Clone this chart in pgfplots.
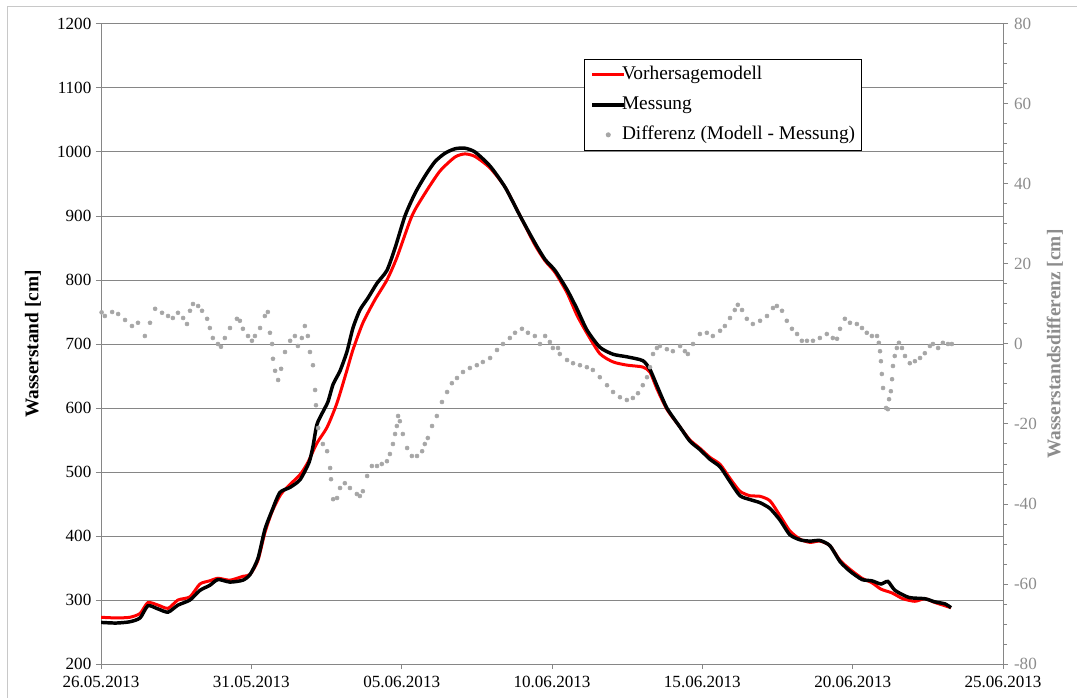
\documentclass[border=0pt]{standalone}
\usepackage{pgfplots}
\pgfplotsset{compat=1.18}
\usepackage{fontspec}
\setmainfont{Liberation Serif}
\definecolor{gridgray}{HTML}{868686}
\definecolor{axgray}{HTML}{868686}
\definecolor{diffgray}{HTML}{A6A6A6}
\definecolor{labgray}{HTML}{8C8C8C}
\definecolor{framegray}{HTML}{C8C8C8}

\begin{document}
\begin{tikzpicture}[x=1pt,y=1pt]
\path[use as bounding box] (0,0) rectangle (807.75,522.75);
\draw[framegray, line width=0.75pt] (5.25,-5) -- (5.25,517.5) -- (815,517.5);

\begin{axis}[
  at={(75.75pt,24.75pt)}, anchor=south west,
  scale only axis, width=676.5pt, height=480pt,
  xmin=0, xmax=30, ymin=200, ymax=1200,
  axis x line*=bottom, axis y line*=left,
  axis line style={axgray, line width=0.75pt},
  xtick={0,5,...,30},
  xticklabels={26.05.2013,31.05.2013,05.06.2013,10.06.2013,15.06.2013,20.06.2013,25.06.2013},
  ytick={200,300,...,1200},
  tick align=outside, major tick length=3.75pt,
  tick style={axgray, line width=0.75pt},
  ymajorgrids, grid style={gridgray, line width=0.75pt},
  ticklabel style={font=\fontsize{12.8}{15}\selectfont, text=black},
  xticklabel style={yshift=-2pt},
  /pgf/number format/assume math mode=true,
  /pgf/number format/1000 sep={},
  every axis y label/.style={at={(axis description cs:-0.0754,0.5)}, rotate=90, anchor=center, font=\bfseries\fontsize{14.5}{17}\selectfont},
  ylabel={Wasserstand [cm]},
]
\addplot[red, line width=2.25pt, smooth, tension=0.4] coordinates {
(0.00,273) (0.50,272) (0.96,273) (1.30,279) (1.56,296) (1.90,292) (2.23,287)
(2.56,300) (2.96,305) (3.29,325) (3.62,330) (3.89,334) (4.29,331) (4.72,337)
(4.96,340) (5.22,362) (5.45,405) (5.69,438) (6.01,467) (6.62,496) (6.88,515)
(7.18,545) (7.52,570) (7.85,608) (8.18,659) (8.38,691) (8.71,733) (9.11,769)
(9.51,800) (9.84,835) (10.34,900) (10.77,935) (11.27,970) (11.77,992) (12.10,997)
(12.44,993) (12.94,975) (13.44,945) (13.94,900) (14.43,855) (14.77,830) (15.10,812)
(15.50,780) (15.83,745) (16.16,717) (16.59,685) (17.03,672) (17.49,667) (18.02,664)
(18.26,656) (18.49,630) (18.82,598) (19.26,570) (19.59,550) (19.92,537) (20.25,523)
(20.59,512) (20.92,490) (21.25,470) (21.58,463) (21.92,462) (22.25,455) (22.58,432)
(22.91,408) (23.25,395) (23.58,390) (23.91,392) (24.24,385) (24.58,362) (24.91,348)
(25.31,334) (25.64,327) (25.94,317) (26.31,311) (26.67,302) (27.07,298) (27.40,302)
(27.74,296) (28.27,288)
};
\addplot[black, line width=2.6pt, smooth, tension=0.4] coordinates {
(0.00,265) (0.50,264) (0.96,266) (1.30,272) (1.56,291) (1.90,286) (2.23,281)
(2.56,292) (2.96,300) (3.29,315) (3.62,323) (3.89,332) (4.29,328) (4.72,331)
(4.96,340) (5.22,365) (5.45,410) (5.69,440) (5.95,468) (6.29,476) (6.62,488)
(6.92,515) (7.05,540) (7.18,574) (7.38,594) (7.55,610) (7.72,637) (7.95,658)
(8.18,688) (8.38,725) (8.61,753) (8.88,772) (9.18,795) (9.51,815) (9.78,850)
(10.11,900) (10.44,935) (10.77,962) (11.11,985) (11.44,998) (11.77,1005) (12.10,1006)
(12.44,1000) (12.94,978) (13.44,945) (13.94,900) (14.43,858) (14.77,832) (15.10,815)
(15.50,785) (15.83,755) (16.16,722) (16.59,695) (17.03,684) (17.49,680) (18.02,674)
(18.26,660) (18.49,635) (18.82,600) (19.26,570) (19.59,548) (19.92,535) (20.25,520)
(20.59,508) (20.92,485) (21.25,463) (21.58,457) (21.92,452) (22.25,443) (22.58,425)
(22.91,402) (23.25,394) (23.58,392) (23.91,393) (24.24,385) (24.58,360) (24.91,345)
(25.31,332) (25.64,330) (25.94,325) (26.17,329) (26.41,315) (26.87,304) (27.40,302)
(27.74,297) (28.07,294) (28.27,288)
};
\end{axis}

\begin{axis}[
  at={(75.75pt,24.75pt)}, anchor=south west,
  scale only axis, width=676.5pt, height=480pt,
  xmin=0, xmax=30, ymin=-80, ymax=80,
  axis x line=none, axis y line*=right,
  axis line style={axgray, line width=0.75pt},
  ytick={-80,-60,...,80}, minor ytick={-75,-70,...,75},
  tick align=outside, major tick length=3.75pt, minor tick length=3pt,
  tick style={axgray, line width=0.75pt},
  ticklabel style={font=\fontsize{12.8}{15}\selectfont, text=labgray},
  yticklabel style={xshift=1pt},
  /pgf/number format/assume math mode=true,
  every axis y label/.style={at={(axis description cs:1.0576,0.5)}, rotate=90, anchor=center, font=\bfseries\fontsize{14.5}{17}\selectfont, text=labgray},
  ylabel={Wasserstandsdifferenz [cm]},
  legend cell align=left,
  legend style={at={(0.5355,0.9453)}, anchor=north west, draw=black, line width=0.75pt, fill=white,
    font=\fontsize{14.5}{16}\selectfont, inner xsep=4.5pt, inner ysep=5pt, row sep=9.5pt,
    nodes={inner sep=0pt, text height=10pt, text depth=3pt},
    /tikz/every odd column/.append style={column sep=-3pt}},
  legend image code/.code={\draw[#1] (0pt,0pt) -- (24pt,0pt);},
]
\addlegendimage{red, line width=2.25pt}
\addlegendentry{Vorhersagemodell}
\addlegendimage{black, line width=2.6pt}
\addlegendentry{Messung}
\addplot[only marks, mark=*, mark size=1.5pt, color=diffgray,
  legend image code/.code={\fill[diffgray] (12pt,0pt) circle (1.5pt);}] coordinates {
(0.02,7.9) (0.13,7) (0.37,8) (0.57,7.5) (0.80,6) (1.03,4.5) (1.23,5.3) (1.46,2)
(1.63,5.3) (1.80,8.8) (2.03,7.8) (2.23,7) (2.39,6.5) (2.56,7.8) (2.73,6.5) (2.86,5)
(2.96,8.3) (3.06,10) (3.23,9.5) (3.36,8.3) (3.53,6.3) (3.62,4) (3.72,1.5) (3.89,0)
(3.99,-0.7) (4.12,1.5) (4.29,4) (4.52,6.3) (4.62,5.8) (4.72,3.8) (4.89,2) (5.02,0.8)
(5.12,2) (5.29,4) (5.45,7) (5.55,8) (5.62,2.8) (5.69,0) (5.72,-3.7) (5.79,-6.7)
(5.89,-9) (5.99,-6.2) (6.12,-2) (6.29,0.8) (6.45,2) (6.55,-0.5) (6.68,1.5) (6.78,4.5)
(6.88,2) (6.95,-2) (7.05,-5.3) (7.12,-11.5) (7.15,-15.3) (7.22,-21) (7.38,-25) (7.52,-26.8)
(7.62,-31) (7.65,-33.8) (7.72,-38.8) (7.85,-38.5) (7.95,-36) (8.11,-34.8) (8.28,-36) (8.51,-37.5)
(8.61,-38) (8.71,-36.8) (8.85,-33) (9.01,-30.5) (9.18,-30.5) (9.34,-30) (9.51,-29.3) (9.61,-27.5)
(9.71,-25) (9.78,-22.5) (9.84,-20.5) (9.88,-18) (9.94,-19.3) (10.04,-22.5) (10.18,-26) (10.34,-28)
(10.51,-28) (10.68,-26.8) (10.77,-25) (10.87,-23.5) (11.01,-20.5) (11.17,-18) (11.34,-14.5) (11.51,-12)
(11.67,-9.8) (11.84,-8.5) (12.04,-7) (12.27,-6) (12.50,-5.3) (12.70,-4.5) (12.94,-3.5) (13.17,-1.5)
(13.37,0) (13.60,1.5) (13.77,2.8) (14.00,3.8) (14.20,2.8) (14.43,2) (14.60,0) (14.77,2)
(14.93,0.5) (15.03,-1) (15.20,-1) (15.26,-2.5) (15.50,-4) (15.70,-4.8) (15.93,-5.3) (16.16,-5.8)
(16.36,-6.5) (16.59,-8.3) (16.83,-10.3) (17.03,-12) (17.26,-13.3) (17.49,-14) (17.69,-13.5) (17.86,-12.3)
(18.02,-10.3) (18.16,-8.3) (18.26,-5.8) (18.36,-2.5) (18.49,-1) (18.59,-0.5) (18.82,-1.3) (19.02,-1.8)
(19.26,-0.5) (19.42,-1.8) (19.52,-2.5) (19.69,0) (19.92,2.5) (20.15,2.8) (20.35,2) (20.59,3.3)
(20.75,4.5) (20.92,6.5) (21.08,8.5) (21.18,9.8) (21.32,8.5) (21.48,6.3) (21.68,5) (21.92,5.8)
(22.15,7) (22.35,9) (22.48,9.5) (22.65,8.3) (22.81,5.8) (22.98,3.8) (23.15,2.5) (23.31,0.8)
(23.48,0.8) (23.68,0.8) (23.91,1.5) (24.14,2.5) (24.34,1.5) (24.48,1.3) (24.58,3.8) (24.74,6.3)
(24.91,5.3) (25.14,5) (25.31,4) (25.47,2.8) (25.64,2) (25.81,2) (25.87,0.3) (25.91,-1.8)
(25.94,-4.3) (25.97,-7.5) (26.01,-11) (26.11,-16) (26.17,-16.3) (26.21,-13.8) (26.27,-11.8) (26.31,-8.8)
(26.34,-5.5) (26.40,-3) (26.47,-1) (26.54,0.3) (26.64,-1) (26.74,-3) (26.90,-4.8) (27.07,-4.3)
(27.24,-3.5) (27.40,-2.3) (27.57,-0.5) (27.67,0) (27.84,-1) (28.00,0.3) (28.17,0) (28.30,0)
};
\addlegendentry{Differenz (Modell - Messung)}
\end{axis}
\end{tikzpicture}
\end{document}
